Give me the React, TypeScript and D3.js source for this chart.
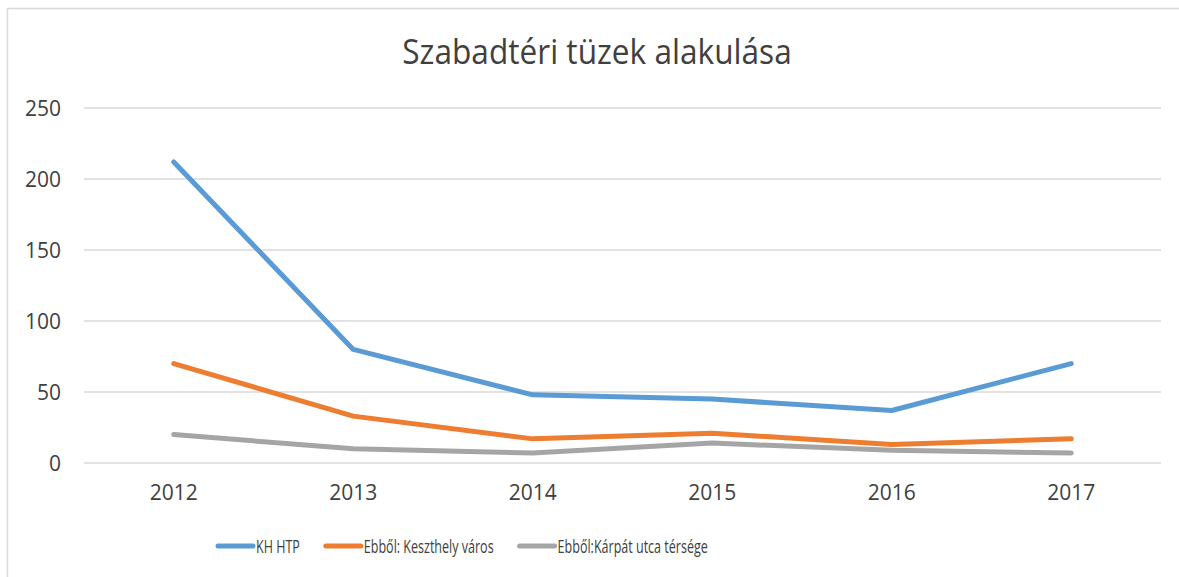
import React, { useEffect, useRef } from "react";
import * as d3 from "d3";

// chart data
const years = ["2012", "2013", "2014", "2015", "2016", "2017"];
const khHtp = [212, 80, 48, 45, 37, 70];
const keszthely = [70, 33, 17, 21, 13, 17];
const karpat = [20, 10, 7, 14, 9, 7];
const seriesNames = ["KH HTP", "Ebből: Keszthely város", "Ebből:Kárpát utca térsége"];
const yTicks = [0, 50, 100, 150, 200, 250];
const chartTitle = "Szabadtéri tüzek alakulása";

const colors = ["#5B9BD5", "#ED7D31", "#A5A5A5"];
const textColor = "#404040";
const gridColor = "#d9d9d9";
const font = "'Open Sans', sans-serif";

const W = 1179;
const H = 577;

export default function App() {
  const ref = useRef<SVGSVGElement | null>(null);

  useEffect(() => {
    const svg = d3.select(ref.current);
    svg.selectAll("*").remove();

    // outer frame
    svg.append("rect")
      .attr("x", 7.5).attr("y", 8.5)
      .attr("width", W + 20).attr("height", H + 20)
      .attr("fill", "#fff")
      .attr("stroke", gridColor).attr("stroke-width", 1.5);

    const x = d3.scaleBand<string>().domain(years).range([84, 1161]);
    const y = d3.scaleLinear().domain([0, 250]).range([463, 108]);
    const cx = (d: string) => (x(d) as number) + x.bandwidth() / 2;

    // title
    svg.append("text")
      .attr("x", 597).attr("y", 64)
      .attr("text-anchor", "middle")
      .attr("font-family", font).attr("font-size", 34)
      .attr("fill", textColor)
      .attr("transform", "translate(597,0) scale(0.93,1) translate(-597,0)")
      .text(chartTitle);

    // grid
    svg.append("g").selectAll("line")
      .data(yTicks)
      .join("line")
      .attr("x1", 84).attr("x2", 1161)
      .attr("y1", d => y(d)).attr("y2", d => y(d))
      .attr("stroke", gridColor).attr("stroke-width", 1.4);

    // y labels
    svg.append("g").selectAll("text")
      .data(yTicks)
      .join("text")
      .attr("x", 61).attr("y", d => y(d) + 7.5)
      .attr("text-anchor", "end")
      .attr("font-family", font).attr("font-size", 21)
      .attr("fill", textColor)
      .text(d => d);

    // x labels
    svg.append("g").selectAll("text")
      .data(years)
      .join("text")
      .attr("x", d => cx(d)).attr("y", 500)
      .attr("text-anchor", "middle")
      .attr("font-family", font).attr("font-size", 21)
      .attr("fill", textColor)
      .text(d => d);

    // lines
    const allSeries = [khHtp, keszthely, karpat];
    const line = d3.line<number>()
      .x((_, i) => cx(years[i]))
      .y(d => y(d));

    svg.append("g").selectAll("path")
      .data(allSeries)
      .join("path")
      .attr("d", d => line(d))
      .attr("fill", "none")
      .attr("stroke", (_, i) => colors[i])
      .attr("stroke-width", 5)
      .attr("stroke-linecap", "round")
      .attr("stroke-linejoin", "round");

    // legend
    const lg = svg.append("g");
    let lx = 218;
    const ly = 546;
    const squeeze = 0.66;
    seriesNames.forEach((name, i) => {
      lg.append("line")
        .attr("x1", lx).attr("x2", lx + 35)
        .attr("y1", ly).attr("y2", ly)
        .attr("stroke", colors[i]).attr("stroke-width", 5)
        .attr("stroke-linecap", "round");
      const tx = lx + 38;
      const label = lg.append("text")
        .attr("x", tx).attr("y", ly + 7)
        .attr("font-family", font).attr("font-size", 19)
        .attr("fill", textColor)
        .attr("transform", `translate(${tx},0) scale(${squeeze},1) translate(${-tx},0)`)
        .text(name);
      const w = (label.node() as SVGTextElement).getComputedTextLength() * squeeze;
      lx = tx + w + 26;
    });
  }, []);

  return (
    <div style={{ position: "absolute", left: 0, top: 0 }}>
      <svg ref={ref} width={W} height={H} style={{ display: "block", background: "#fff" }} />
    </div>
  );
}
